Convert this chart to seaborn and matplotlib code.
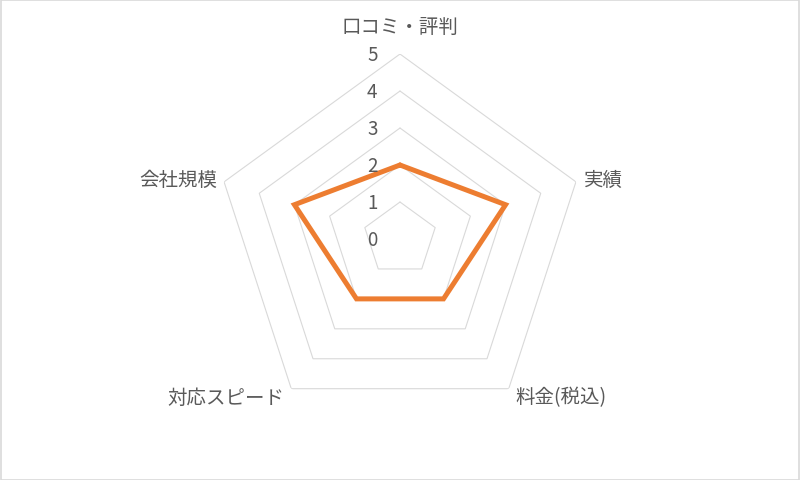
import numpy as np
import pandas as pd
import matplotlib
matplotlib.use("Agg")
import matplotlib.pyplot as plt
import seaborn as sns

# データ
categories = ["口コミ・評判", "実績", "料金(税込)", "対応スピード", "会社規模"]
scores = [2, 3, 2, 2, 3]
ring_values = [0, 1, 2, 3, 4, 5]

sns.set_theme(style="white")
plt.rcParams["font.family"] = ["Noto Sans CJK JP", "DejaVu Sans"]

text_color = "#595959"
grid_color = "#d9d9d9"
line_color = "#ED7D31"

n = len(categories)
angles = np.linspace(0, 2 * np.pi, n, endpoint=False)
# 最後の点は2πで閉じる（xの重複を避ける）
angles_closed = np.append(angles, 2 * np.pi)

df = pd.DataFrame({
    "angle": angles_closed,
    "score": scores + scores[:1],
})

fig = plt.figure(figsize=(8, 4.81), dpi=100)
fig.patch.set_facecolor("white")
ax = fig.add_axes([0.26875, 0.1164, 0.4625, 0.7692], projection="polar")
ax.set_theta_offset(np.pi / 2)
ax.set_theta_direction(-1)
ax.set_ylim(0, 5)

# 五角形のグリッド
for r in ring_values[1:]:
    ax.plot(angles_closed, [r] * len(angles_closed), color=grid_color, lw=0.8, zorder=1)

sns.lineplot(data=df, x="angle", y="score", ax=ax, color=line_color, lw=3.6,
             sort=False, zorder=3)
for l in ax.lines:
    l.set_solid_joinstyle("miter")

ax.grid(False)
ax.spines["polar"].set_visible(False)
ax.set_xticks([])
ax.set_yticks([])
ax.set_xlabel("")
ax.set_ylabel("")

# 目盛ラベル
for r in ring_values:
    ax.annotate(str(r), xy=(0, r), xytext=(-20, 0), textcoords="offset points",
                ha="center", va="center", fontsize=13.5, color=text_color, zorder=4)

# 項目ラベル
label_pos = [
    ((0, 12), "center", "bottom"),
    ((6, 2), "left", "center"),
    ((5, -6), "left", "center"),
    ((-5, -6), "right", "center"),
    ((-5, 2), "right", "center"),
]
for ang, cat, (off, ha, va) in zip(angles, categories, label_pos):
    ax.annotate(cat, xy=(ang, 5), xytext=off, textcoords="offset points",
                ha=ha, va=va, fontsize=14, color=text_color)

# 外枠
fig.add_artist(plt.Rectangle((0.001, 0.001), 0.998, 0.997, transform=fig.transFigure,
                             fill=False, edgecolor=grid_color, lw=1.2))

fig.savefig("out.png", dpi=100, facecolor="white")
